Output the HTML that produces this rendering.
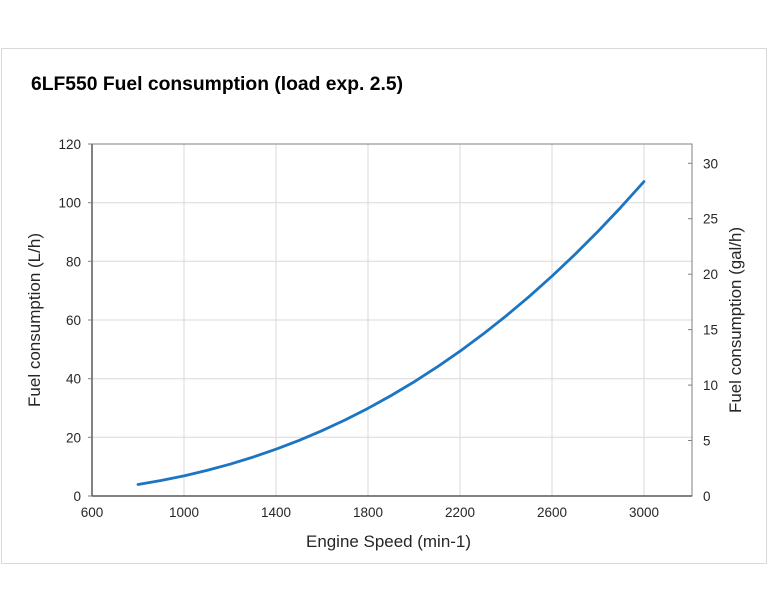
<!DOCTYPE html>
<html><head><meta charset="utf-8"><style>
html,body{margin:0;padding:0;background:#fff;}
svg{display:block;font-family:"Liberation Sans",Arial,sans-serif;}
</style></head><body>
<svg width="768" height="614" viewBox="0 0 768 614" xmlns="http://www.w3.org/2000/svg">
<rect x="0" y="0" width="768" height="614" fill="#fff"/>
<rect x="1.5" y="48.5" width="765" height="515" fill="#fff" stroke="#d9d9d9" stroke-width="1"/>
<text x="31" y="90" font-size="19" font-weight="bold" fill="#000" textLength="372" lengthAdjust="spacingAndGlyphs">6LF550 Fuel consumption (load exp. 2.5)</text>
<g stroke="#d9d9d9" stroke-width="1">
<line x1="184" y1="144" x2="184" y2="496"/>
<line x1="276" y1="144" x2="276" y2="496"/>
<line x1="368" y1="144" x2="368" y2="496"/>
<line x1="460" y1="144" x2="460" y2="496"/>
<line x1="552" y1="144" x2="552" y2="496"/>
<line x1="644" y1="144" x2="644" y2="496"/>
<line x1="92" y1="437.3" x2="692" y2="437.3"/>
<line x1="92" y1="378.7" x2="692" y2="378.7"/>
<line x1="92" y1="320" x2="692" y2="320"/>
<line x1="92" y1="261.3" x2="692" y2="261.3"/>
<line x1="92" y1="202.7" x2="692" y2="202.7"/>
</g>
<rect x="92" y="144" width="600" height="352" fill="none" stroke="#7f7f7f" stroke-width="1"/>
<line x1="92" y1="144" x2="92" y2="496" stroke="#595959" stroke-width="1.5"/>
<line x1="92" y1="496" x2="692" y2="496" stroke="#595959" stroke-width="1.5"/>
<g stroke="#7f7f7f" stroke-width="1">
<line x1="88" y1="496" x2="92" y2="496"/>
<line x1="88" y1="437.3" x2="92" y2="437.3"/>
<line x1="88" y1="378.7" x2="92" y2="378.7"/>
<line x1="88" y1="320" x2="92" y2="320"/>
<line x1="88" y1="261.3" x2="92" y2="261.3"/>
<line x1="88" y1="202.7" x2="92" y2="202.7"/>
<line x1="88" y1="144" x2="92" y2="144"/>
<line x1="688" y1="440.5" x2="692" y2="440.5"/>
<line x1="688" y1="385.1" x2="692" y2="385.1"/>
<line x1="688" y1="329.6" x2="692" y2="329.6"/>
<line x1="688" y1="274.2" x2="692" y2="274.2"/>
<line x1="688" y1="218.7" x2="692" y2="218.7"/>
<line x1="688" y1="163.3" x2="692" y2="163.3"/>
</g>
<g font-size="13.5" fill="#262626" text-anchor="end">
<text x="81" y="501">0</text>
<text x="81" y="442.3">20</text>
<text x="81" y="383.7">40</text>
<text x="81" y="325">60</text>
<text x="81" y="266.3">80</text>
<text x="81" y="207.7">100</text>
<text x="81" y="149">120</text>
</g>
<g font-size="13.5" fill="#262626" text-anchor="start">
<text x="703" y="501">0</text>
<text x="703" y="445.5">5</text>
<text x="703" y="390.1">10</text>
<text x="703" y="334.6">15</text>
<text x="703" y="279.2">20</text>
<text x="703" y="223.7">25</text>
<text x="703" y="168.3">30</text>
</g>
<g font-size="13.5" fill="#262626" text-anchor="middle">
<text x="92" y="517">600</text>
<text x="184" y="517">1000</text>
<text x="276" y="517">1400</text>
<text x="368" y="517">1800</text>
<text x="460" y="517">2200</text>
<text x="552" y="517">2600</text>
<text x="644" y="517">3000</text>
</g>
<text x="306" y="547" font-size="16.5" fill="#262626" textLength="165" lengthAdjust="spacingAndGlyphs">Engine Speed (min-1)</text>
<text transform="translate(40,407) rotate(-90)" font-size="16.5" fill="#262626" textLength="174" lengthAdjust="spacingAndGlyphs">Fuel consumption (L/h)</text>
<text transform="translate(741,413) rotate(-90)" font-size="16.5" fill="#262626" textLength="186" lengthAdjust="spacingAndGlyphs">Fuel consumption (gal/h)</text>
<polyline fill="none" stroke="#1b75c2" stroke-width="2.8" stroke-linejoin="round" stroke-linecap="round" points="138,484.45 161,480.5 184,475.83 207,470.4 230,464.18 253,457.13 276,449.22 299,440.41 322,430.68 345,419.99 368,408.32 391,395.62 414,381.89 437,367.09 460,351.19 483,334.17 506,316 529,296.66 552,276.12 575,254.37 598,231.37 621,207.1 644,181.55"/>
</svg>
</body></html>
